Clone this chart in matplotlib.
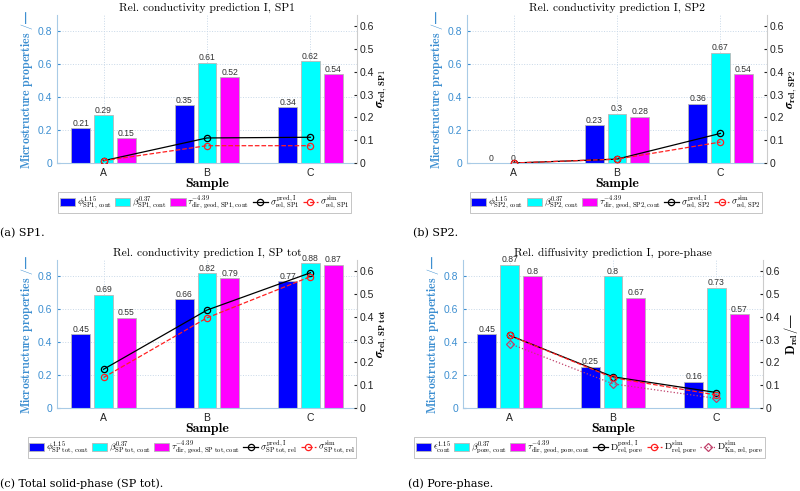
import numpy as np
import matplotlib
matplotlib.use("Agg")
import matplotlib.pyplot as plt
from matplotlib.patches import Patch

plt.rcParams['mathtext.fontset'] = 'cm'
plt.rcParams['font.family'] = ['Liberation Sans', 'DejaVu Sans']
plt.rcParams['axes.unicode_minus'] = False

samples = ['A', 'B', 'C']

# (a) SP1
sp1_phi = [0.21, 0.35, 0.34]
sp1_beta = [0.29, 0.61, 0.62]
sp1_tau = [0.15, 0.52, 0.54]
sp1_pred = [0.01, 0.11, 0.113]
sp1_sim = [0.01, 0.076, 0.076]

# (b) SP2
sp2_phi = [0.0, 0.23, 0.36]
sp2_beta = [0.0, 0.30, 0.67]
sp2_tau = [np.nan, 0.28, 0.54]
sp2_pred = [0.0, 0.017, 0.13]
sp2_sim = [0.0, 0.017, 0.092]

# (c) SP tot
tot_phi = [0.45, 0.66, 0.77]
tot_beta = [0.69, 0.82, 0.88]
tot_tau = [0.55, 0.79, 0.87]
tot_pred = [0.17, 0.43, 0.594]
tot_sim = [0.134, 0.396, 0.577]

# (d) pore
pore_eps = [0.45, 0.25, 0.16]
pore_beta = [0.87, 0.80, 0.73]
pore_tau = [0.80, 0.67, 0.57]
pore_pred = [0.319, 0.137, 0.068]
pore_sim = [0.319, 0.133, 0.057]
pore_kn = [0.283, 0.106, 0.042]

BLUE_AX = '#3d8fd1'
EDGE = '#b8b8b8'
fig = plt.figure(figsize=(8, 4.91), dpi=100)
W, H = 800, 491


def px_axes(l, t, w, h):
    return fig.add_axes([l / W, (H - t - h) / H, w / W, h / H])


def panel(l, t, bars, bar_labels, lines, title, rlabel, leg_box, caption, cap_xy):
    ax = px_axes(l, t, 300, 148)
    x = np.arange(1, 4)
    cols = ['#0000ff', '#00ffff', '#ff00ff']
    offs = [-0.22, 0.0, 0.22]
    handles = []
    for vals, c, o, lab in zip(bars, cols, offs, bar_labels):
        v = np.array(vals, dtype=float)
        ax.bar(x + o, v, width=0.18, color=c, edgecolor=EDGE, linewidth=0.6, zorder=2)
        for xi, vi in zip(x + o, v):
            if not np.isnan(vi):
                ax.text(xi, vi + 0.003, f'{vi:g}', ha='center', va='bottom', fontsize=6.2,
                        color='#333333', zorder=3)
        handles.append(Patch(facecolor=c, edgecolor=EDGE, linewidth=0.6, label=lab))
    ax.set_xlim(0.55, 3.45)
    ax.set_ylim(0, 0.9)
    ax.set_yticks([0, 0.2, 0.4, 0.6, 0.8])
    ax.set_yticklabels(['0', '0.2', '0.4', '0.6', '0.8'])
    ax.set_xticks(x)
    ax.set_xticklabels(samples)
    ax.grid(True, linestyle=':', color='#c8d8e8', linewidth=0.7, zorder=0)
    ax.set_axisbelow(True)
    ax.tick_params(axis='y', colors=BLUE_AX, labelsize=7.5, direction='in', length=2)
    ax.tick_params(axis='x', colors='#222222', labelsize=7.5, direction='in', length=2)
    for s in ['left', 'bottom']:
        ax.spines[s].set_color('#a9cbe6')
    ax.spines['top'].set_visible(False)
    ax.spines['right'].set_visible(False)
    ax.set_ylabel(r'$\mathbf{Microstructure\ properties\ /}$—', color=BLUE_AX, fontsize=8.6,
                  labelpad=2, fontweight='bold')
    ax.set_xlabel('Sample', fontsize=10, labelpad=0, family='cmb10')
    ax.set_title(title, fontsize=8.3, pad=0, y=1.025, family='cmr10')

    ax2 = ax.twinx()
    ax2.set_ylim(0, 0.65)
    ax2.set_yticks([0, 0.1, 0.2, 0.3, 0.4, 0.5, 0.6])
    ax2.set_yticklabels(['0', '0.1', '0.2', '0.3', '0.4', '0.5', '0.6'])
    ax2.tick_params(axis='y', colors='#222222', labelsize=7.5, direction='in', length=2, pad=2)
    ax2.spines['right'].set_color('#cccccc')
    for s in ['left', 'bottom', 'top']:
        ax2.spines[s].set_visible(False)
    ax2.set_ylabel(rlabel, fontsize=9, labelpad=1)
    for vals, style, lab in lines:
        ln, = ax2.plot(x, vals, label=lab, **style)
        handles.append(ln)

    leg = fig.legend(handles=handles, loc='center',
                     bbox_to_anchor=((leg_box[0] + leg_box[2] / 2) / W,
                                     1 - (leg_box[1] + leg_box[3] / 2) / H),
                     ncol=len(handles), fontsize=6.8, frameon=True, fancybox=False,
                     edgecolor='#aaaaaa', handlelength=1.6, handletextpad=0.2,
                     columnspacing=0.35, borderpad=0.15, borderaxespad=0,
                     handleheight=0.9)
    leg.get_frame().set_linewidth(0.6)
    fig.text(cap_xy[0] / W, 1 - cap_xy[1] / H, caption, fontsize=8,
             family='DejaVu Serif', va='center', ha='left')


pred_style = dict(color='black', linestyle='-', marker='o', markersize=4.5,
                  markerfacecolor='none', markeredgewidth=0.9, linewidth=0.9)
sim_style = dict(color='#ff2020', linestyle='--', marker='o', markersize=4.5,
                 markerfacecolor='none', markeredgewidth=0.9, linewidth=0.9)
kn_style = dict(color='#c0406a', linestyle=':', marker='D', markersize=3.8,
                markerfacecolor='none', markeredgewidth=0.9, linewidth=0.9)

panel(57, 15,
      [sp1_phi, sp1_beta, sp1_tau],
      [r'$\phi^{1.15}_{\mathrm{SP1,\,cont}}$', r'$\beta^{0.37}_{\mathrm{SP1,\,cont}}$',
       r'$\tau^{-4.39}_{\mathrm{dir,\,geod,\,SP1,cont}}$'],
      [(sp1_pred, pred_style, r'$\sigma^{\mathrm{pred,\,I}}_{\mathrm{rel,\,SP1}}$'),
       (sp1_sim, sim_style, r'$\sigma^{\mathrm{sim}}_{\mathrm{rel,\,SP1}}$')],
      'Rel. conductivity prediction I, SP1', r'$\boldsymbol{\sigma}_{\mathbf{rel,\,SP1}}$',
      (57, 195, 295, 15), '(a) SP1.', (0, 233))

panel(467, 15,
      [sp2_phi, sp2_beta, sp2_tau],
      [r'$\phi^{1.15}_{\mathrm{SP2,\,cont}}$', r'$\beta^{0.37}_{\mathrm{SP2,\,cont}}$',
       r'$\tau^{-4.39}_{\mathrm{dir,\,geod,\,SP2,cont}}$'],
      [(sp2_pred, pred_style, r'$\sigma^{\mathrm{pred,\,I}}_{\mathrm{rel,\,SP2}}$'),
       (sp2_sim, sim_style, r'$\sigma^{\mathrm{sim}}_{\mathrm{rel,\,SP2}}$')],
      'Rel. conductivity prediction I, SP2', r'$\boldsymbol{\sigma}_{\mathbf{rel,\,SP2}}$',
      (468, 195, 296, 15), '(b) SP2.', (413, 233))

panel(57, 260,
      [tot_phi, tot_beta, tot_tau],
      [r'$\phi^{1.15}_{\mathrm{SP\ tot,\,cont}}$', r'$\beta^{0.37}_{\mathrm{SP\ tot,\,cont}}$',
       r'$\tau^{-4.39}_{\mathrm{dir,\,geod,\,SP\ tot,cont}}$'],
      [(tot_pred, pred_style, r'$\sigma^{\mathrm{pred,\,I}}_{\mathrm{SP\ tot,\,rel}}$'),
       (tot_sim, sim_style, r'$\sigma^{\mathrm{sim}}_{\mathrm{SP\ tot,\,rel}}$')],
      'Rel. conductivity prediction I, SP tot', r'$\boldsymbol{\sigma}_{\mathbf{rel,\,SP\ tot}}$',
      (26, 439, 332, 17), '(c) Total solid-phase (SP tot).', (0, 484))

panel(463, 260,
      [pore_eps, pore_beta, pore_tau],
      [r'$\epsilon^{1.15}_{\mathrm{cont}}$', r'$\beta^{0.37}_{\mathrm{pore,\,cont}}$',
       r'$\tau^{-4.39}_{\mathrm{dir,\,geod,\,pore,cont}}$'],
      [(pore_pred, pred_style, r'$\mathrm{D}^{\mathrm{pred,\,I}}_{\mathrm{rel,\,pore}}$'),
       (pore_sim, sim_style, r'$\mathrm{D}^{\mathrm{sim}}_{\mathrm{rel,\,pore}}$'),
       (pore_kn, kn_style, r'$\mathrm{D}^{\mathrm{sim}}_{\mathrm{Kn,\,rel,\,pore}}$')],
      'Rel. diffusivity prediction I, pore-phase', r'$\mathbf{D_{rel}/}$—',
      (413, 439, 353, 17), '(d) Pore-phase.', (408, 484))

fig.savefig('out.png', dpi=100)
